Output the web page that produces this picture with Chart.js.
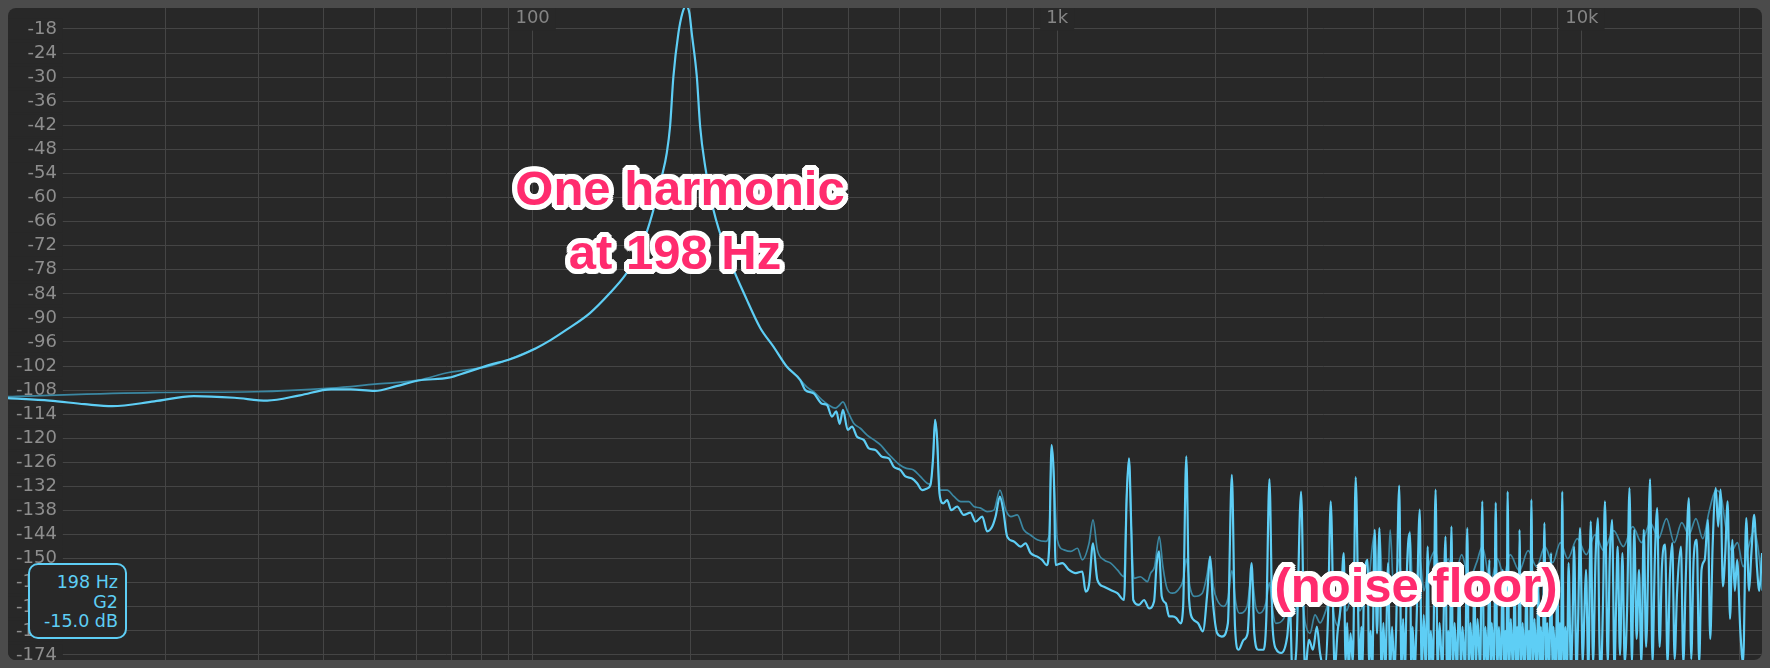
<!DOCTYPE html>
<html lang="en">
<head>
<meta charset="utf-8">
<title>Spectrum</title>
<script src="https://cdn.jsdelivr.net/npm/chart.js@4.4.1/dist/chart.umd.min.js"></script>
<style>
  html, body { margin: 0; padding: 0; }
  body { width: 1770px; height: 668px; background: #4b4b4b; position: relative; overflow: hidden; }
  #panel { position: absolute; left: 8px; top: 8px; width: 1754px; height: 652px; background: #282828; border-radius: 8px; overflow: hidden; }
  #panel canvas { display: block; }
  .note {
    position: absolute; transform: translate(-50%, -50%);
    font: bold 49px "Liberation Sans", Arial, sans-serif; line-height: 1;
    color: #ff2b6e; white-space: nowrap;
    text-shadow: 5px 0 0 #fff, -5px 0 0 #fff, 0 5px 0 #fff, 0 -5px 0 #fff,
      4px 3px 0 #fff, -4px 3px 0 #fff, 4px -3px 0 #fff, -4px -3px 0 #fff,
      3px 4px 0 #fff, -3px 4px 0 #fff, 3px -4px 0 #fff, -3px -4px 0 #fff,
      5px 2px 0 #fff, 5px -2px 0 #fff, -5px 2px 0 #fff, -5px -2px 0 #fff,
      2px 5px 0 #fff, -2px 5px 0 #fff, 2px -5px 0 #fff, -2px -5px 0 #fff;
  }
  #readout {
    position: absolute; left: 28px; top: 563px; width: 99px; height: 76px;
    box-sizing: border-box; border: 2px solid #5ecef5; border-radius: 10px;
    background: #282828; padding: 8px 7px 0 0; text-align: right;
    color: #5ecef5; font: 17.5px/19.5px "DejaVu Sans", sans-serif;
  }
</style>
</head>
<body>
<div id="panel"><canvas id="spectrum" width="1754" height="652"></canvas></div>
<div id="readout">198 Hz<br>G2<br>-15.0 dB</div>
<div class="note" style="left:680px; top:188px;">One harmonic</div>
<div class="note" style="left:675px; top:252px;">at 198 Hz</div>
<div class="note" style="left:1416px; top:585px;">(noise floor)</div>
<script>
// grid + labels
var gridHz = [20, 30, 40, 50, 60, 70, 80, 90, 100, 200, 300, 400, 500, 600, 700, 800, 900,
  1000, 2000, 3000, 4000, 5000, 6000, 7000, 8000, 9000, 10000, 20000];
var labelHz = [100, 1000, 10000];
var labelText = ['100', '1k', '10k'];
var dbTicks = [-18, -24, -30, -36, -42, -48, -54, -60, -66, -72, -78, -84, -90, -96, -102,
  -108, -114, -120, -126, -132, -138, -144, -150, -156, -162, -168, -174];

// live spectrum (bright line), low end, fundamental and harmonics up to 3.5 kHz
var mainLowHz = [
  10, 12, 14, 15.8, 19, 22.6, 27, 31.2, 36, 41.3, 45, 50, 55, 60.6, 69.2, 75, 82.8, 90.6,
  101.3, 108, 115.9, 128.6, 140.4, 150, 157.9, 165, 169.9, 176.3, 180.2, 182.8, 185.5, 189.6,
  193, 196, 199, 201.1, 205.6, 208.6, 213.3, 221.2, 234.6, 256.1, 271.6, 288, 305,
  323.8, 331.1, 343.3, 356.1, 364, 372, 379.2, 384.8, 390.5, 398.7, 406.3, 415.3, 427.7, 437.3,
  450.3, 463.6, 477.5, 488, 502.5, 513.6, 528.8, 540.7, 552.7, 564.9, 573.3, 580.1, 585, 590.4,
  596.4, 606.2, 616.8, 627.9, 644.5, 663.5, 683.4, 698.5, 719.5, 735.2, 751.8, 762.9, 777.6, 789,
  802.8, 826.8, 851.5, 870.2, 889.5, 916.1, 936.2, 954.4, 965.5, 975.6, 985.6, 993,
  1022.6, 1053, 1084.2, 1116.5, 1132.8, 1149.7, 1170, 1192.6, 1227.9, 1264.3, 1302, 1340.6,
  1356.4, 1370.3, 1384.3, 1396.3, 1431.9, 1463.9, 1496.2, 1529.4, 1547.5, 1563.6, 1582, 1610,
  1634, 1658, 1687, 1717, 1738, 1762, 1784, 1818, 1856, 1895, 1932, 1956, 1979, 2018, 2060,
  2115, 2152, 2182, 2216, 2267, 2306, 2347, 2375, 2417, 2472, 2503, 2538, 2573, 2618, 2673,
  2744, 2777, 2806, 2856, 2916, 2967, 3019, 3072, 3126, 3169, 3236, 3281, 3322, 3380, 3421,
  3469
];
var mainLowDb = [
  -110.0, -110.6, -111.5, -112.0, -110.8, -109.5, -109.9, -110.6, -109.3, -107.8, -107.8, -108.2,
  -107.0, -105.6, -104.9, -103.5, -101.7, -100.3,
  -97.6, -95.6, -93.0, -88.8, -83.8, -79.4, -74.7, -68.6, -63.1, -54.8, -48.9, -42.3, -29.9, -19.1,
  -14.0, -12.3, -14.0, -19.1, -29.9, -42.3, -52.3, -63.1, -73.8, -85.5, -92.5, -97.2, -102.1,
  -105.5, -108.0, -108.8, -111.4, -111.7, -114.6, -113.3, -116.4, -112.9, -117.9, -117.1, -119.6,
  -120.4, -122.5, -122.9, -124.6, -125.0, -127.1, -127.9, -129.5, -130.0, -131.2, -132.9, -132.5,
  -131.6, -124.6, -115.4, -120.4,
  -133.7, -136.2, -135.4, -137.9, -137.0, -139.1, -138.5, -140.8, -139.5, -143.2, -142.0, -139.5,
  -134.5, -137.9, -144.5, -145.7, -147.0, -146.2, -148.6, -149.5, -150.3, -151.6, -147.0, -121.7,
  -130.4, -151.6,
  -151.1, -152.8, -153.6, -153.2, -158.2, -156.5, -146.2, -155.3, -157.0, -157.8, -158.6, -160.3,
  -134.5, -125.0, -142.8, -160.3, -161.5, -160.3, -162.4, -160.7, -151.1, -148.2, -159.4, -161.1,
  -164.4, -164.4, -164.8, -166.1, -161.9, -124.5, -160.3, -165.2, -166.1, -168.1, -158.6, -149.5,
  -160.3, -168.6, -169.4,
  -166.1, -129.1, -166.9, -172.7, -170.2, -168.6, -151.1, -168.6, -172.7, -172.7, -165.2, -130.2,
  -166.9, -172.7, -173.5,
  -169.4, -161.9, -178, -172.7, -133.3, -178, -170.2, -172.7, -166.9, -173.5, -178, -165.2, -135.7,
  -178, -168.6,
  -161.9
];

// live spectrum, dense noise floor above 3.5 kHz
var mainHighHz = [
  3517, 3545, 3570, 3595, 3623, 3660, 3706, 3771, 3800, 3820, 3837, 3904, 3930, 3958, 3985,
  4028, 4070, 4113, 4150, 4185, 4220, 4273, 4310, 4348, 4390, 4424, 4486, 4530, 4564, 4600,
  4644, 4701, 4730, 4759, 4800, 4842, 4910, 4950, 4996, 5040, 5083, 5120, 5154, 5200, 5263,
  5310, 5355, 5420, 5497, 5530, 5564, 5600, 5642, 5680, 5721, 5780, 5841, 5880, 5923, 5990,
  6048, 6090, 6132, 6190, 6240, 6280, 6327, 6400, 6460, 6510, 6551, 6610, 6665, 6700, 6735,
  6800, 6853, 6900, 6949, 7010, 7071, 7110, 7145, 7185, 7220, 7270, 7321, 7390, 7449, 7490,
  7527, 7570, 7606, 7660, 7712, 7780, 7848, 7890, 7930, 7970, 8013, 8070, 8125, 8200, 8267,
  8310, 8354, 8420, 8485, 8540, 8589, 8660, 8740, 8785, 8831, 8910, 8986, 9030, 9080, 9130,
  9175, 9240, 9304, 9370, 9434, 9533, 9600, 9666, 9767, 9840, 9921, 10042, 10110, 10183, 10290,
  10398, 10506, 10617, 10728, 10800, 10878, 10970, 11068, 11204, 11302, 11420, 11540, 11620,
  11701, 11824, 11948, 12073, 12200, 12327, 12456, 12587, 12718, 12852, 12986, 13122, 13260,
  13492, 13634, 13776, 13921, 14067, 14214, 14413, 14564, 14716, 14870, 15027, 15184, 15450,
  15612, 15775, 15996, 16163, 16333, 16562, 16735, 16910, 17147, 17387, 17569, 17753, 18001,
  18190, 18381, 18573, 18768, 18964, 19163, 19364, 19567, 19772, 20049, 20294, 20577, 20829,
  21047, 21305, 21566, 21791, 22058
];
var mainHighDb = [
  -148.6, -176, -166, -178, -168.6, -176, -129.7, -178, -167, -177, -161.9, -150.3, -176, -168, -178,
  -142.8, -168.6, -142.4, -178, -166, -178, -151.1, -178, -167, -178, -168.6, -131.8, -178, -165, -178,
  -151.9, -143.6, -178, -167, -178, -165.2, -137.8, -178, -164, -178, -147.0, -178, -168, -178, -132.8,
  -178, -166, -178, -144.5, -178, -168, -178, -142.0, -178, -166, -178, -155.3, -178, -167, -178,
  -142.4, -178, -166, -178, -154.4, -178, -165, -178, -135.7, -178, -167, -178, -150.3, -178, -166,
  -178, -136.0, -178, -167, -178, -152.8, -178, -168, -178, -133.3, -178, -165, -178, -155.3, -178,
  -167, -178, -142.8, -178, -166, -178, -153.6, -178, -168, -178, -135.3, -178, -165, -178, -156.9,
  -178, -167, -178, -141.1, -178, -166, -178, -148.6, -178, -167, -178, -154.4, -178, -166, -178,
  -133.3, -178, -167, -178, -151.1, -178, -166, -147.0, -178, -165, -142.4, -176, -164, -152.8, -178,
  -140.7, -176, -150.3, -139.9, -170, -178, -162, -135.7, -176, -150.3, -140.3, -178, -162,
  -147.0, -174, -148.6, -176, -162, -132.4, -176, -142.8, -170, -152.8, -176, -142.8, -172,
  -130.2, -176, -150.3, -137.4, -172, -151.9, -146.5, -176, -154.4, -146.1, -175, -158.6, -147.0,
  -176, -155.3, -134.9, -175, -150.3, -145.3, -176, -152.8, -150.3, -140.3, -170, -147.0, -132.4,
  -142.0, -132.8, -156.9, -148.6, -135.7, -165, -145.3, -158, -150.3, -168, -176, -139.9, -158,
  -148.6, -139.1, -152, -158, -148.6
];

// averaged spectrum (dark line); null leaves a gap where it sits under the live line
var avgHz = [
  10, 18.9, 29.5, 41.3, 50, 60.6, 69.2, 82.8, 92, 101.3, 200,
  323.8, 333.8, 343.3, 356.1, 366.6, 377.8, 384.8, 390.5, 398.7, 409.6, 421.3, 434.1, 447.3,
  460.9, 474.9, 485.8, 500.5, 515.9, 532.1, 548.2, 564.9, 573.3, 580.1, 585, 590.4, 596.4,
  616.8, 635.5, 654.8, 678.5, 693.8, 714.6, 735.2, 757.4, 777.6, 797.9, 815.9, 839.1, 863.3,
  889.5, 916.1, 950.3, 965.5, 975.6, 985.6, 1000.4, 1030.4, 1061.2, 1092.7, 1116.5, 1149.7,
  1170, 1192.6, 1227.9, 1264.3, 1302, 1340.6, 1356.4, 1370.3, 1384.3, 1400, 1440, 1485,
  1507, 1533, 1565, 1590, 1620, 1658, 1700, 1740, 1762, 1790, 1826, 1890, 1930, 1956, 1985,
  2018, 2076, 2115, 2152, 2190, 2224, 2300, 2347, 2390, 2434, 2500, 2538, 2575, 2609, 2700,
  2777, 2803, 2860, 2916, 2970, 3032, 3100, 3170, 3250, 3320, 3380, 3436, 3500, 3560, 3620,
  3706, 3771, 3850, 3920, 4028, 4070, 4113, 4185, 4273, 4312, 4380, 4486, 4560, 4644, 4701,
  4760, 4850, 4910, 5000, 5100, 5263, 5400, 5560, 5700, 5900, 6100, 6300, 6460, 6700, 6900,
  7100, 7300, 7600, 7900, 8200, 8500, 8800, 9100, 9400, 9800, 10200, 10600, 11000, 11500,
  12000, 12500, 13000, 13500, 14000, 14500, 15000, 15500, 16000, 16500, 17000, 17500, 18000,
  18400, 18800, 19300, 19800, 20300, 20800, 21300, 21800, 22050
];
var avgDb = [
  -109.6, -108.6, -108.4, -107.5, -106.5, -105.5, -103.6, -102.0, -99.9, -97.6, null,
  -105.5, -107.3, -108.4, -110.4, -111.7, -112.5, -111.7, -110.9, -113.3, -116.3, -117.5, -119.2,
  -120.4, -121.7, -123.7, -125.0, -126.6, -127.5, -127.9, -129.5, -131.2, -131.4, -124.6, -115.4,
  -120.4, -132.9,
  -132.9, -134.5, -135.8, -135.8, -137.0, -137.4, -138.3, -137.9, -132.9, -137.9, -139.5, -139.1,
  -142.8, -144.1, -145.3, -145.7, -144.0, -121.7, -130.4, -145.3, -147.8, -148.2, -147.4, -150.3,
  -146.2, -140.3, -147.8, -150.3, -151.1, -152.8, -154.5, -134.5, -125.0, -142.8, -154.9, -154.5,
  -155.7,
  -153.6, -152.0, -144.5, -152.0, -157.5, -158.6, -157.8, -155.0, -150.0, -157.0, -159.4, -158.6,
  -154.0, -149.5, -157.0, -160.3, -161.9, -160.0, -153.0, -161.0, -163.6, -162.0, -154.4, -162.0,
  -163.6, -161.0, -156.0, -163.0, -166.1, -165.0, -160.0, -164.4, -162.0, -158.0, -166.0, -168.6,
  -164.0, -166.0, -163.0, -159.0, -165.0, -166.9, -158.0, -163.0, -160.0, -155.0, -163.0, -160.0,
  -156.0, -143.5, -158.0, -143.0, -160.0, -155.0, -142.8, -158.0, -150.0, -160.0, -152.0, -143.2,
  -158.0, -160.0, -150.0, -158.0, -152.0, -148.0, -158.0, -150.0, -156.0, -149.0, -155.0, -151.0,
  -147.0, -156.0, -150.0, -154.0, -149.0, -153.0, -148.0, -152.0, -147.0, -151.0, -146.0, -150.0,
  -145.0, -149.0, -144.0, -148.0, -143.0, -147.0, -142.0, -146.0, -141.0, -145.0, -140.0, -146.0,
  -141.0, -144.0, -140.0, -145.0, -138.0, -133.0, -134.0, -142.0, -148.0, -146.0, -152.0, -147.0,
  -143.0, -150.0, -158.0
];

var mainHz = mainLowHz.concat(mainHighHz);
var mainDb = mainLowDb.concat(mainHighDb);
var mainPts = mainHz.map(function (f, i) { return {x: f, y: mainDb[i]}; });
var avgPts = avgHz.map(function (f, i) { return {x: f, y: avgDb[i]}; });

var ctx = document.getElementById('spectrum').getContext('2d');
var chart = new Chart(ctx, {
  type: 'line',
  data: {
    datasets: [{
      label: 'Live',
      data: mainPts,
      borderColor: '#5ecef5',
      borderWidth: 2.2,
      order: 0
    }, {
      label: 'Average',
      data: avgPts,
      borderColor: '#3b87a2',
      borderWidth: 1.7,
      order: 1
    }]
  },
  options: {
    responsive: false,
    animation: false,
    devicePixelRatio: 1,
    layout: { padding: 0 },
    elements: {
      point: { radius: 0, hoverRadius: 0 },
      line: { cubicInterpolationMode: 'monotone', borderJoinStyle: 'round', fill: false }
    },
    plugins: { legend: { display: false }, tooltip: { enabled: false } },
    events: [],
    scales: {
      x: {
        type: 'logarithmic',
        position: 'top',
        min: 10,
        max: 22050,
        bounds: 'data',
        afterBuildTicks: function (s) { s.ticks = gridHz.map(function (v) { return {value: v}; }); },
        afterFit: function (s) { s.height = 0; s.paddingLeft = 0; s.paddingRight = 0; },
        grid: { color: '#454545', lineWidth: 1, drawTicks: false },
        border: { display: false },
        ticks: {
          autoSkip: false,
          maxRotation: 0,
          minRotation: 0,
          mirror: true,
          padding: 0,
          color: '#858585',
          font: { family: 'DejaVu Sans', size: 18 },
          showLabelBackdrop: function (c) { return !!c.tick && labelHz.indexOf(c.tick.value) >= 0; },
          backdropColor: '#282828',
          backdropPadding: { left: 6, right: 6, top: 0, bottom: 1 },
          callback: function (v) {
            var i = labelHz.indexOf(v);
            return i < 0 ? '' : labelText[i];
          }
        }
      },
      y: {
        type: 'linear',
        position: 'left',
        min: -175.25,
        max: -12.77,
        bounds: 'data',
        afterBuildTicks: function (s) { s.ticks = dbTicks.map(function (v) { return {value: v}; }); },
        afterFit: function (s) { s.width = 0; s.paddingTop = 0; s.paddingBottom = 0; },
        grid: { color: '#454545', lineWidth: 1, drawTicks: false },
        border: { display: false },
        ticks: {
          autoSkip: false,
          mirror: true,
          crossAlign: 'far',
          padding: 8,
          color: '#8e8e8e',
          font: { family: 'DejaVu Sans', size: 18 },
          showLabelBackdrop: true,
          backdropColor: '#282828',
          backdropPadding: { left: 20, right: 6, top: 0, bottom: 0 },
          callback: function (v) { return String(v); }
        }
      }
    }
  }
});
</script>
</body>
</html>
